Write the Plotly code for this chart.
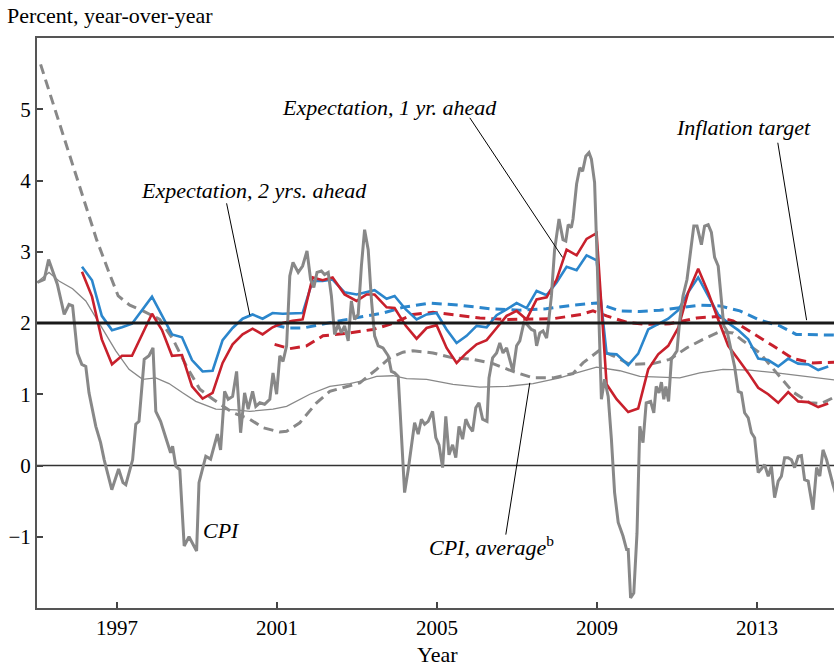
import plotly.graph_objects as go

# ---------------- data ----------------
cpi_x = [1995.01, 1995.18, 1995.29, 1995.39, 1995.51, 1995.68, 1995.80, 1995.89, 1996.01, 1996.12,
         1996.22, 1996.30, 1996.47, 1996.59, 1996.68, 1996.87, 1997.04, 1997.15, 1997.22, 1997.39,
         1997.47, 1997.55, 1997.68, 1997.80, 1997.90, 1997.97, 1998.09, 1998.26, 1998.34, 1998.39,
         1998.47, 1998.57, 1998.68, 1998.80, 1998.99, 1999.05, 1999.22, 1999.34, 1999.51, 1999.59,
         1999.69, 1999.78, 1999.89, 1999.99, 2000.09, 2000.19, 2000.28, 2000.39, 2000.47, 2000.57,
         2000.69, 2000.82, 2000.90, 2000.99, 2001.07, 2001.15, 2001.24, 2001.32, 2001.40, 2001.53,
         2001.64, 2001.75, 2001.84, 2001.92, 2002.00, 2002.11, 2002.19, 2002.28, 2002.36, 2002.44,
         2002.53, 2002.61, 2002.69, 2002.78, 2002.86, 2002.94, 2003.03, 2003.11, 2003.19, 2003.28,
         2003.36, 2003.44, 2003.53, 2003.65, 2003.78, 2003.86, 2003.94, 2004.03, 2004.11, 2004.19,
         2004.28, 2004.36, 2004.44, 2004.53, 2004.61, 2004.69, 2004.78, 2004.89, 2004.97, 2005.05,
         2005.14, 2005.22, 2005.30, 2005.39, 2005.47, 2005.55, 2005.64, 2005.72, 2005.80, 2005.89,
         2005.97, 2006.05, 2006.14, 2006.25, 2006.30, 2006.39, 2006.49, 2006.57, 2006.65, 2006.74,
         2006.82, 2006.90, 2006.99, 2007.07, 2007.17, 2007.25, 2007.36, 2007.44, 2007.49, 2007.57,
         2007.65, 2007.74, 2007.78, 2007.86, 2007.94, 2008.05, 2008.15, 2008.22, 2008.28, 2008.36,
         2008.40, 2008.49, 2008.57, 2008.64, 2008.72, 2008.80, 2008.86, 2008.94, 2009.00, 2009.07,
         2009.11, 2009.19, 2009.28, 2009.36, 2009.44, 2009.53, 2009.65, 2009.74, 2009.78, 2009.84,
         2009.92, 2010.00, 2010.07, 2010.15, 2010.23, 2010.34, 2010.42, 2010.48, 2010.55, 2010.61,
         2010.67, 2010.72, 2010.79, 2010.86, 2010.92, 2011.00, 2011.07, 2011.15, 2011.25, 2011.34,
         2011.42, 2011.50, 2011.61, 2011.69, 2011.78, 2011.86, 2011.94, 2012.03, 2012.09, 2012.17,
         2012.25, 2012.36, 2012.44, 2012.53, 2012.61, 2012.69, 2012.78, 2012.86, 2012.94, 2013.03,
         2013.11, 2013.19, 2013.28, 2013.36, 2013.44, 2013.53, 2013.61, 2013.69, 2013.78, 2013.86,
         2013.94, 2014.03, 2014.11, 2014.19, 2014.28, 2014.40, 2014.49, 2014.57, 2014.65, 2014.74,
         2014.90, 2014.97]
cpi_y = [2.57, 2.61, 2.89, 2.73, 2.54, 2.12, 2.26, 2.24, 1.58, 1.42,
         1.39, 1.02, 0.55, 0.32, 0.08, -0.34, -0.05, -0.24, -0.27, 0.08,
         0.58, 0.62, 1.49, 1.54, 1.65, 0.76, 0.62, 0.32, 0.18, 0.27,
         -0.01, -0.06, -1.13, -1.00, -1.20, -0.24, 0.13, 0.09, 0.44, 0.22,
         1.04, 0.93, 0.97, 1.32, 0.46, 1.02, 0.79, 1.04, 0.83, 0.88,
         0.86, 0.93, 1.30, 1.00, 1.54, 1.46, 1.68, 2.66, 2.85, 2.71,
         2.80, 3.01, 2.61, 2.50, 2.71, 2.73, 2.68, 2.71, 2.38, 1.84,
         1.98, 1.86, 1.96, 1.75, 2.31, 2.05, 2.12, 2.80, 3.31, 3.03,
         2.33, 1.82, 1.68, 1.65, 1.54, 1.32, 1.30, 1.25, 0.51, -0.38,
         -0.06, 0.27, 0.60, 0.44, 0.65, 0.58, 0.62, 0.76, 0.39, 0.29,
         -0.03, 0.69, 0.15, 0.29, 0.11, 0.55, 0.37, 0.65, 0.55, 0.48,
         0.81, 0.88, 0.65, 0.62, 1.23, 1.51, 1.58, 1.72, 1.58, 1.65,
         1.49, 1.32, 1.68, 1.75, 2.00, 1.98, 1.91, 1.89, 1.68, 1.86,
         1.89, 1.79, 1.96, 2.38, 3.03, 3.46, 3.17, 3.15, 3.38, 3.34,
         3.46, 3.95, 4.18, 4.13, 4.34, 4.39, 4.30, 3.97, 2.94, 1.58,
         0.93, 1.21, 0.97, 0.37, -0.38, -0.80, -0.99, -1.18, -1.18, -1.86,
         -1.79, -0.95, 0.55, 0.32, 0.88, 0.90, 0.74, 1.11, 1.02, 1.17,
         0.93, 1.11, 0.90, 1.49, 1.54, 1.61, 2.05, 2.38, 2.61, 2.99,
         3.36, 3.36, 3.10, 3.36, 3.38, 3.27, 2.92, 2.80, 2.43, 1.96,
         1.89, 1.61, 1.39, 1.04, 1.02, 0.74, 0.67, 0.46, 0.39, -0.10,
         -0.05, 0.01, -0.15, -0.01, -0.45, -0.22, -0.15, 0.11, 0.11, 0.08,
         -0.03, 0.13, 0.14, -0.20, -0.22, -0.62, -0.03, -0.15, 0.22, 0.08,
         -0.27, -0.40]

cpi_avg_x = [1995.00, 1995.30, 1995.55, 1995.89, 1996.22, 1996.55, 1996.97, 1997.30, 1997.64, 1997.97,
             1998.30, 1998.64, 1998.97, 1999.47, 1999.97, 2000.32, 2000.90, 2001.24, 2001.82, 2002.32,
             2002.82, 2003.15, 2003.49, 2003.90, 2004.24, 2004.74, 2005.40, 2006.07, 2006.74, 2007.40,
             2008.07, 2008.49, 2008.99, 2009.57, 2010.07, 2011.07, 2011.57, 2012.15, 2012.82, 2013.49,
             2014.24, 2014.97]
cpi_avg_y = [2.57, 2.71, 2.59, 2.48, 2.31, 2.01, 1.61, 1.35, 1.21, 1.23,
             1.15, 1.02, 0.90, 0.79, 0.78, 0.76, 0.79, 0.83, 1.00, 1.11,
             1.15, 1.19, 1.25, 1.26, 1.22, 1.21, 1.14, 1.10, 1.11, 1.15,
             1.23, 1.30, 1.38, 1.33, 1.25, 1.23, 1.30, 1.35, 1.34, 1.30,
             1.25, 1.20]

cpi_dash_x = [1995.09, 1996.19, 1996.49, 1996.82, 1997.03, 1997.32, 1997.65, 1998.07, 1998.40, 1998.74,
              1999.07, 1999.40, 1999.90, 2000.32, 2000.65, 2001.07, 2001.24, 2001.57, 2001.99, 2002.32,
              2002.74, 2003.07, 2003.49, 2003.82, 2004.15, 2004.40, 2004.90, 2005.40, 2005.90, 2006.40,
              2006.90, 2007.40, 2007.90, 2008.40, 2008.65, 2009.07, 2009.40, 2009.82, 2010.40, 2010.82,
              2011.24, 2011.65, 2012.07, 2012.40, 2012.65, 2013.07, 2013.49, 2013.90, 2014.32, 2014.61,
              2014.97]
cpi_dash_y = [5.63, 3.71, 3.17, 2.68, 2.38, 2.25, 2.17, 2.05, 1.77, 1.39,
              1.07, 0.93, 0.74, 0.65, 0.53, 0.47, 0.48, 0.60, 0.88, 1.04,
              1.11, 1.16, 1.35, 1.51, 1.59, 1.61, 1.58, 1.51, 1.49, 1.43,
              1.32, 1.23, 1.23, 1.29, 1.44, 1.62, 1.54, 1.42, 1.43, 1.49,
              1.65, 1.77, 1.88, 1.86, 1.75, 1.58, 1.30, 1.03, 0.88, 0.87,
              0.97]

exp_x = [1996.125, 1996.375, 1996.62, 1996.875, 1997.125, 1997.375, 1997.875, 1998.125, 1998.375, 1998.625,
         1998.875, 1999.14, 1999.39, 1999.64, 1999.89, 2000.14, 2000.39, 2000.64, 2000.89, 2001.14,
         2001.39, 2001.64, 2001.89, 2002.14, 2002.39, 2002.69, 2002.99, 2003.24, 2003.44, 2003.74,
         2003.94, 2004.22, 2004.49, 2004.74, 2004.99, 2005.24, 2005.49, 2005.74, 2005.99, 2006.24,
         2006.49, 2006.74, 2006.99, 2007.24, 2007.49, 2007.74, 2007.99, 2008.24, 2008.49, 2008.74,
         2008.99, 2009.24, 2009.49, 2009.78, 2010.03, 2010.28, 2010.53, 2010.78, 2011.03, 2011.28,
         2011.53, 2011.78, 2012.03, 2012.28, 2012.53, 2012.78, 2013.03, 2013.28, 2013.53, 2013.78,
         2014.03, 2014.28, 2014.53, 2014.78]
exp2_y = [2.79, 2.60, 2.10, 1.90, 1.94, 1.99, 2.37, 2.10, 1.84, 1.80,
          1.48, 1.32, 1.33, 1.76, 1.93, 2.06, 2.12, 2.06, 2.14, 2.13,
          2.14, 2.14, 2.59, 2.59, 2.61, 2.43, 2.40, 2.43, 2.46, 2.34,
          2.38, 2.19, 2.05, 2.12, 2.14, 1.91, 1.72, 1.82, 1.96, 1.94,
          2.11, 2.19, 2.28, 2.21, 2.45, 2.39, 2.57, 2.79, 2.74, 2.95,
          2.88, 1.57, 1.56, 1.41, 1.57, 1.91, 1.98, 2.06, 2.18, 2.43,
          2.64, 2.38, 2.12, 2.00, 1.90, 1.77, 1.50, 1.48, 1.39, 1.50,
          1.43, 1.42, 1.34, 1.39]
exp1_y = [2.72, 2.37, 1.77, 1.42, 1.54, 1.54, 2.13, 1.90, 1.54, 1.55,
          1.11, 0.94, 1.02, 1.44, 1.70, 1.84, 1.92, 1.84, 1.94, 2.00,
          2.03, 2.05, 2.64, 2.60, 2.64, 2.40, 2.31, 2.40, 2.40, 2.22,
          2.21, 1.96, 1.78, 1.93, 1.97, 1.65, 1.44, 1.58, 1.70, 1.76,
          1.93, 2.10, 2.17, 2.05, 2.33, 2.36, 2.61, 3.03, 2.95, 3.18,
          3.26, 1.14, 0.93, 0.75, 0.80, 1.35, 1.56, 1.68, 1.93, 2.43,
          2.76, 2.43, 2.05, 1.68, 1.49, 1.30, 1.09, 1.00, 0.88, 1.03,
          0.90, 0.89, 0.82, 0.87]

trend2_x = [2000.94, 2001.27, 2001.65, 2002.07, 2002.65, 2003.15, 2003.65, 2004.15, 2004.82, 2005.57,
            2006.32, 2007.07, 2007.73, 2008.40, 2008.99, 2009.57, 2010.07, 2010.57, 2011.07, 2011.57,
            2012.07, 2012.57, 2013.07, 2013.57, 2013.98, 2014.49, 2014.97]
trend2_y = [1.97, 1.93, 1.93, 1.98, 2.04, 2.09, 2.14, 2.22, 2.28, 2.25,
            2.20, 2.18, 2.20, 2.25, 2.28, 2.17, 2.16, 2.18, 2.21, 2.25,
            2.24, 2.17, 2.04, 1.96, 1.84, 1.83, 1.83]

trend1_x = [2000.94, 2001.32, 2001.74, 2002.15, 2002.82, 2003.40, 2003.82, 2004.40, 2004.90, 2005.40,
            2006.07, 2006.74, 2007.24, 2007.90, 2008.60, 2008.90, 2009.24, 2009.74, 2010.24, 2010.82,
            2011.49, 2011.99, 2012.40, 2012.90, 2013.40, 2013.90, 2014.40, 2014.97]
trend1_y = [1.70, 1.64, 1.68, 1.82, 1.86, 1.91, 1.98, 2.12, 2.15, 2.12,
            2.07, 2.05, 2.05, 2.06, 2.12, 2.17, 2.10, 2.01, 1.98, 1.99,
            2.07, 2.09, 2.03, 1.86, 1.68, 1.50, 1.44, 1.45]

target_value = 2.0
x_ticks = [1997, 2001, 2005, 2009, 2013]
y_ticks = [-1, 0, 1, 2, 3, 4, 5]
y_tick_text = ["\u22121", "0", "1", "2", "3", "4", "5"]

# ---------------- styling ----------------
W, H = 834, 668
L, R, T, B = 37, 0, 38, 60
PW, PH = W - L - R, H - T - B
BLUE = "#2b86cc"
RED = "#c8202c"
GRAY = "#888888"
FONT = "Liberation Serif, Times New Roman, serif"


def px(x):
    return (x - L) / PW


def py(y):
    return (H - B - y) / PH


fig = go.Figure()
fig.add_trace(go.Scatter(x=cpi_avg_x, y=cpi_avg_y, mode="lines",
                         line=dict(color=GRAY, width=1.3), hoverinfo="skip"))
fig.add_trace(go.Scatter(x=cpi_dash_x, y=cpi_dash_y, mode="lines",
                         line=dict(color=GRAY, width=3, dash="10px,6px"), hoverinfo="skip"))
fig.add_trace(go.Scatter(x=trend2_x, y=trend2_y, mode="lines",
                         line=dict(color=BLUE, width=3, dash="10px,6px"), hoverinfo="skip"))
fig.add_trace(go.Scatter(x=trend1_x, y=trend1_y, mode="lines",
                         line=dict(color=RED, width=3, dash="10px,6px"), hoverinfo="skip"))
fig.add_trace(go.Scatter(x=exp_x, y=exp2_y, mode="lines",
                         line=dict(color=BLUE, width=2.6), hoverinfo="skip"))
fig.add_trace(go.Scatter(x=exp_x, y=exp1_y, mode="lines",
                         line=dict(color=RED, width=2.6), hoverinfo="skip"))
fig.add_trace(go.Scatter(x=cpi_x, y=cpi_y, mode="lines",
                         line=dict(color=GRAY, width=3), hoverinfo="skip"))

fig.add_shape(type="line", xref="paper", yref="y", x0=0, x1=1, y0=0, y1=0,
              line=dict(color="#333333", width=1.4), layer="below")
fig.add_shape(type="line", xref="paper", yref="y", x0=0, x1=1, y0=target_value, y1=target_value,
              line=dict(color="#1a1a1a", width=3.2), layer="above")

# leader lines
leaders = [
    ((2005.82, 4.88), (2008.14, 2.92)),
    ((1999.74, 3.68), (2000.32, 2.11)),
    ((2013.52, 4.53), (2014.24, 2.04)),
    ((2006.72, -0.97), (2007.32, 1.16)),
]
for (a, b) in leaders:
    fig.add_shape(type="line", xref="x", yref="y", x0=a[0], y0=a[1], x1=b[0], y1=b[1],
                  line=dict(color="black", width=1))

txt_font = dict(family=FONT, size=22, color="black")
labels = [
    ("<i>Expectation, 1 yr. ahead</i>", 389, 107),
    ("<i>Expectation, 2 yrs. ahead</i>", 254, 190),
    ("<i>Inflation target</i>", 743, 127),
    ("<i>CPI</i>", 221, 530),
    ("<i>CPI, average</i><sup>b</sup>", 491, 546),
    ("Year", 437, 654),
]
for t, x, y in labels:
    fig.add_annotation(text=t, xref="paper", yref="paper", x=px(x), y=py(y),
                       xanchor="center", yanchor="middle", showarrow=False, font=txt_font)
fig.add_annotation(text="Percent, year-over-year", xref="paper", yref="paper",
                   x=px(5), y=py(15), xanchor="left", yanchor="middle", showarrow=False,
                   font=txt_font)

axis_common = dict(showgrid=False, zeroline=False, showline=True, linecolor="#555555",
                   linewidth=2, ticks="inside", ticklen=6, tickwidth=1.5, tickcolor="#444444",
                   tickfont=dict(family=FONT, size=21, color="black"))

fig.update_layout(
    width=W, height=H,
    margin=dict(l=L, r=R, t=T, b=B),
    paper_bgcolor="white", plot_bgcolor="white",
    showlegend=False,
    xaxis=dict(range=[1995, 1995 + PW / 40.0], tickvals=x_ticks, mirror=True, **axis_common),
    yaxis=dict(range=[-2, 6], tickvals=y_ticks, ticktext=y_tick_text, mirror=False, **axis_common),
)

fig.write_html("out.html", config={"displayModeBar": False},
               post_script="document.body.style.margin='0';document.body.style.overflow='hidden';")
